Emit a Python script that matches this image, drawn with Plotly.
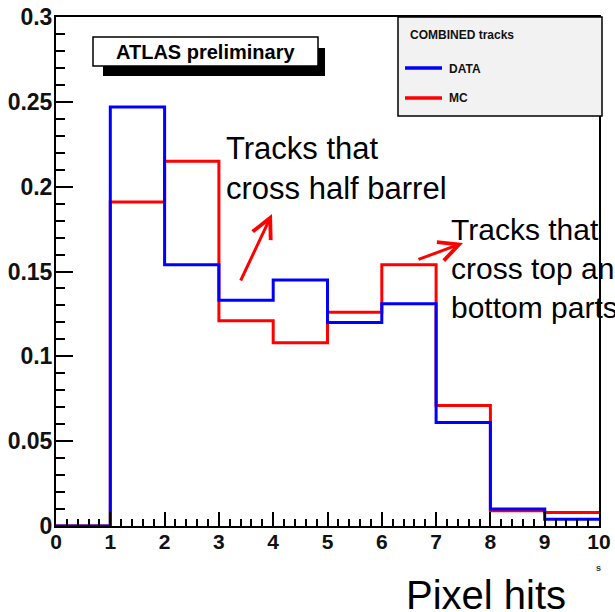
import plotly.graph_objects as go

# ---- data ----
bin_edges = [0, 1, 2, 3, 4, 5, 6, 7, 8, 9, 10]
data_vals = [0.0, 0.247, 0.154, 0.133, 0.145, 0.120, 0.131, 0.061, 0.010, 0.004]
mc_vals = [0.0, 0.191, 0.215, 0.121, 0.108, 0.126, 0.154, 0.071, 0.009, 0.008]
y_range = [0, 0.3]
x_range = [0, 10]

W, H = 615, 612
L, R, T, B = 56, 16, 17, 86
PW, PH = W - L - R, H - T - B


def px(x):
    return (x - L) / PW


def py(y):
    return (H - B - y) / PH


FONT = "Liberation Sans, Arial, Helvetica, sans-serif"

fig = go.Figure()
fig.add_trace(go.Scatter(x=bin_edges, y=mc_vals + [mc_vals[-1]], mode="lines",
                         line=dict(color="#ff0000", width=3, shape="hv"),
                         name="MC", showlegend=False))
fig.add_trace(go.Scatter(x=bin_edges, y=data_vals + [data_vals[-1]], mode="lines",
                         line=dict(color="#0000ff", width=3, shape="hv"),
                         name="DATA", showlegend=False))

axis_common = dict(showgrid=False, zeroline=False, showline=True, linewidth=2,
                   linecolor="black", mirror=True, ticks="inside", tickwidth=2,
                   tickcolor="black", tickmode="linear", tick0=0,
                   automargin=False)

fig.update_xaxes(range=x_range, dtick=1, ticklen=14, ticklabelstandoff=-4,
                 tickfont=dict(family=FONT, size=21, color="#111", weight="bold"),
                 minor=dict(ticks="inside", ticklen=7, dtick=0.2, tickwidth=1.5, tickcolor="black"),
                 **axis_common)
fig.update_yaxes(range=y_range, dtick=0.05, ticklen=17, ticklabelstandoff=-3,
                 tickfont=dict(family=FONT, size=23, color="#111", weight="bold"),
                 minor=dict(ticks="inside", ticklen=9, dtick=0.01, tickwidth=1.5, tickcolor="black"),
                 **axis_common)

shapes = [
    # ATLAS preliminary box + shadow
    dict(type="rect", xref="paper", yref="paper", x0=px(103), x1=px(325), y0=py(76), y1=py(48),
         fillcolor="black", line=dict(width=0)),
    dict(type="rect", xref="paper", yref="paper", x0=px(93), x1=px(318), y0=py(66), y1=py(37),
         fillcolor="white", line=dict(color="black", width=1.5)),
    # legend box
    dict(type="rect", xref="paper", yref="paper", x0=px(398), x1=px(602), y0=py(116), y1=py(17),
         fillcolor="#f2f2f2", line=dict(color="black", width=1.5)),
    dict(type="line", xref="paper", yref="paper", x0=px(405), x1=px(442), y0=py(68), y1=py(68),
         line=dict(color="#0000ff", width=3.5)),
    dict(type="line", xref="paper", yref="paper", x0=px(405), x1=px(442), y0=py(98), y1=py(98),
         line=dict(color="#ff0000", width=3.5)),
]

annotations = [
    dict(text="<b>ATLAS preliminary</b>", x=px(205), y=py(52), xref="paper", yref="paper",
         showarrow=False, font=dict(family=FONT, size=20, color="black"),
         xanchor="center", yanchor="middle"),
    dict(text="<b>COMBINED tracks</b>", x=px(408), y=py(35), xref="paper", yref="paper",
         showarrow=False, font=dict(family=FONT, size=12, color="#111"),
         xanchor="left", yanchor="middle"),
    dict(text="<b>DATA</b>", x=px(447), y=py(69), xref="paper", yref="paper",
         showarrow=False, font=dict(family=FONT, size=12, color="#111"),
         xanchor="left", yanchor="middle"),
    dict(text="<b>MC</b>", x=px(447), y=py(98), xref="paper", yref="paper",
         showarrow=False, font=dict(family=FONT, size=12, color="#111"),
         xanchor="left", yanchor="middle"),
    dict(text="Tracks that<br>cross half barrel", x=px(224), y=py(168), xref="paper", yref="paper",
         showarrow=False, font=dict(family=FONT, size=31, color="black"),
         xanchor="left", yanchor="middle", align="left"),
    dict(text="Tracks that<br>cross top and<br>bottom parts", x=px(449), y=py(268),
         xref="paper", yref="paper", showarrow=False,
         font=dict(family=FONT, size=30, color="black"),
         xanchor="left", yanchor="middle", align="left"),
    dict(text="", x=px(272), y=py(214), xref="paper", yref="paper", showarrow=True,
         ax=-32, ay=68, arrowhead=5, arrowsize=1.3, arrowwidth=3, arrowcolor="#ff0000"),
    dict(text="", x=px(463), y=py(243), xref="paper", yref="paper", showarrow=True,
         ax=-46, ay=17, arrowhead=5, arrowsize=1.3, arrowwidth=3, arrowcolor="#ff0000"),
    dict(text="Pixel hits", x=px(486), y=py(595), xref="paper", yref="paper",
         showarrow=False, font=dict(family=FONT, size=40, color="black"),
         xanchor="center", yanchor="middle"),
    dict(text="<b>s</b>", x=px(598), y=py(568), xref="paper", yref="paper",
         showarrow=False, font=dict(family=FONT, size=9, color="#333"),
         xanchor="center", yanchor="middle"),
]

fig.update_layout(width=W, height=H, margin=dict(l=L, r=R, t=T, b=B),
                  paper_bgcolor="white", plot_bgcolor="white",
                  shapes=shapes, annotations=annotations, showlegend=False)

fig.write_html("out.html")
